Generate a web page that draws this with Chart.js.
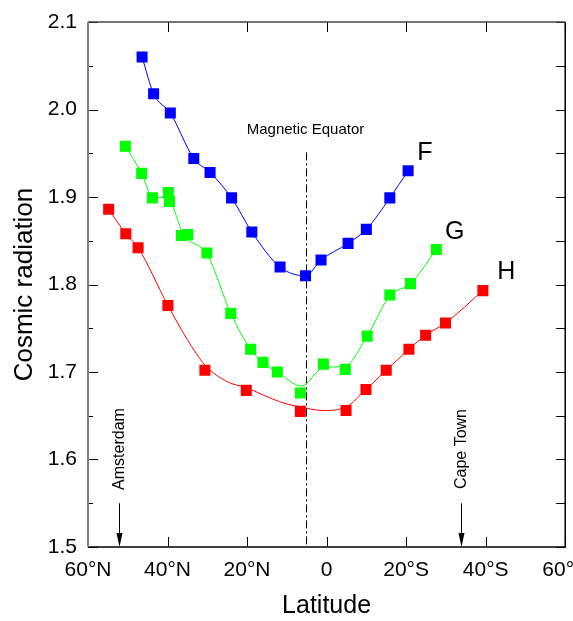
<!DOCTYPE html>
<html lang="en">
<head>
    <meta charset="UTF-8">
    <title>Cosmic radiation vs latitude</title>
    <script src="https://cdn.jsdelivr.net/npm/chart.js"></script>
    <style>
        html, body { margin: 0; padding: 0; background: #fff; }
        #wrap { width: 573px; height: 621px; }
    </style>
</head>
<body>
<div id="wrap"><canvas id="chart" width="573" height="621"></canvas></div>
<script>
// latitude in degrees: negative = north, positive = south
const xTickValues = [-60, -40, -20, 0, 20, 40, 60];
const xTickLabels = ['60°N', '40°N', '20°N', '0', '20°S', '40°S', '60°S'];
const yMajorTicks = [1.5, 1.6, 1.7, 1.8, 1.9, 2.0, 2.1];
const yMinorTicks = [1.55, 1.65, 1.75, 1.85, 1.95, 2.05];

// measured points
const fLat = [-46.4, -43.5, -39.3, -33.4, -29.3, -23.9, -18.8, -11.7, -5.3, -1.4, 5.4, 10.0, 15.9, 20.5];
const fVal = [2.060, 2.018, 1.996, 1.944, 1.928, 1.899, 1.860, 1.820, 1.810, 1.828, 1.847, 1.863, 1.899, 1.930];

const gLat = [-50.6, -46.5, -43.8, -39.8, -39.5, -36.5, -34.9, -30.1, -24.1, -19.1, -16.0, -12.4, -6.6, -0.8, 4.7, 10.2, 15.9, 21.1, 27.6];
const gVal = [1.958, 1.927, 1.899, 1.905, 1.895, 1.856, 1.857, 1.836, 1.767, 1.726, 1.711, 1.700, 1.676, 1.709, 1.703, 1.741, 1.788, 1.801, 1.840];

const hLat = [-54.8, -50.5, -47.4, -39.9, -30.6, -20.2, -6.6, 4.9, 9.9, 15.0, 20.7, 24.9, 29.9, 39.3];
const hVal = [1.886, 1.858, 1.842, 1.776, 1.702, 1.679, 1.655, 1.656, 1.680, 1.702, 1.726, 1.742, 1.756, 1.793];

// smoothed curves
const gFitLat = [-50.6, -46.5, -43.8, -40.0, -36.0, -30.1, -24.1, -19.1, -16.0, -12.4, -6.3, -0.8, 4.7, 10.2, 15.9, 21.1, 27.6];
const gFitVal = [1.958, 1.927, 1.900, 1.899, 1.857, 1.835, 1.767, 1.726, 1.711, 1.700, 1.684, 1.705, 1.707, 1.741, 1.787, 1.801, 1.840];

const hFitLat = [-54.8, -50.5, -47.4, -39.9, -35.0, -30.6, -25.0, -20.2, -11.8, -6.6, -0.8, 4.9, 9.9, 15.0, 20.7, 24.9, 29.9, 39.3];
const hFitVal = [1.886, 1.858, 1.842, 1.776, 1.737, 1.708, 1.689, 1.682, 1.666, 1.660, 1.656, 1.660, 1.680, 1.702, 1.726, 1.742, 1.756, 1.793];

// annotations
const equatorLat = -5.3;
const amsterdamLat = -52.3;
const capeTownLat = 33.8;

const FONT = '"Liberation Sans", Arial, sans-serif';
const BLUE = '#0000ff', GREEN = '#00ff00', RED = '#ff0000';

const pts = (xs, ys) => xs.map((x, i) => ({ x: x, y: ys[i] }));

function pointSet(lat, val, color) {
    return {
        data: pts(lat, val),
        showLine: false,
        pointStyle: 'rect',
        pointRadius: 7.8,
        pointBorderWidth: 0,
        backgroundColor: color,
        borderColor: color
    };
}

function curveSet(lat, val, color) {
    return {
        data: pts(lat, val),
        showLine: true,
        pointRadius: 0,
        borderWidth: 1,
        borderColor: color,
        cubicInterpolationMode: 'monotone'
    };
}

// frame, inward ticks and text annotations
const decorations = {
    id: 'decorations',
    beforeDatasetsDraw(chart) {
        const ctx = chart.ctx, xs = chart.scales.x, ys = chart.scales.y;
        const a = chart.chartArea;
        const ex = Math.round(xs.getPixelForValue(equatorLat)) + 0.5;
        ctx.save();
        ctx.strokeStyle = '#000';
        ctx.lineWidth = 1;
        ctx.setLineDash([8, 3, 2, 3]);
        ctx.beginPath();
        ctx.moveTo(ex, ys.getPixelForValue(1.951));
        ctx.lineTo(ex, a.bottom);
        ctx.stroke();
        ctx.restore();
    },
    afterDraw(chart) {
        const ctx = chart.ctx, xs = chart.scales.x, ys = chart.scales.y;
        const a = chart.chartArea;
        ctx.save();

        // ticks
        ctx.strokeStyle = '#000';
        ctx.lineWidth = 1;
        ctx.beginPath();
        xTickValues.forEach(v => {
            const x = Math.round(xs.getPixelForValue(v)) + 0.5;
            ctx.moveTo(x, a.bottom); ctx.lineTo(x, a.bottom - 10);
            ctx.moveTo(x, a.top); ctx.lineTo(x, a.top + 10);
        });
        yMajorTicks.forEach(v => {
            const y = Math.round(ys.getPixelForValue(v)) + 0.5;
            ctx.moveTo(a.left, y); ctx.lineTo(a.left + 10, y);
            ctx.moveTo(a.right, y); ctx.lineTo(a.right - 9, y);
        });
        yMinorTicks.forEach(v => {
            const y = Math.round(ys.getPixelForValue(v)) + 0.5;
            ctx.moveTo(a.left, y); ctx.lineTo(a.left + 5, y);
            ctx.moveTo(a.right, y); ctx.lineTo(a.right - 9, y);
        });
        ctx.stroke();

        // frame
        ctx.lineWidth = 1.5;
        ctx.strokeStyle = '#000';
        ctx.beginPath();
        ctx.moveTo(a.left, a.bottom); ctx.lineTo(a.right, a.bottom); ctx.lineTo(a.right, a.top);
        ctx.stroke();
        ctx.strokeStyle = '#444';
        ctx.beginPath();
        ctx.moveTo(a.left, a.top); ctx.lineTo(a.right, a.top);
        ctx.stroke();
        ctx.lineWidth = 2;
        ctx.strokeStyle = '#808080';
        ctx.beginPath();
        ctx.moveTo(a.left, a.bottom); ctx.lineTo(a.left, a.top);
        ctx.stroke();

        // text
        ctx.fillStyle = '#000';
        ctx.textAlign = 'center';
        ctx.textBaseline = 'middle';
        ctx.font = '15px ' + FONT;
        ctx.fillText('Magnetic Equator', xs.getPixelForValue(equatorLat), ys.getPixelForValue(1.977));

        ctx.font = '25px ' + FONT;
        ctx.fillText('F', xs.getPixelForValue(24.7), ys.getPixelForValue(1.950));
        ctx.fillText('G', xs.getPixelForValue(32.2), ys.getPixelForValue(1.860));
        ctx.fillText('H', xs.getPixelForValue(45.2), ys.getPixelForValue(1.814));

        // city arrows
        [[amsterdamLat, 'Amsterdam'], [capeTownLat, 'Cape Town']].forEach(([lat, name]) => {
            const x = Math.round(xs.getPixelForValue(lat)) + 0.5;
            const yTop = ys.getPixelForValue(1.55);
            ctx.lineWidth = 1;
            ctx.strokeStyle = '#000';
            ctx.beginPath();
            ctx.moveTo(x, yTop); ctx.lineTo(x, a.bottom - 8);
            ctx.stroke();
            ctx.beginPath();
            ctx.moveTo(x - 3, a.bottom - 14);
            ctx.lineTo(x + 3, a.bottom - 14);
            ctx.lineTo(x, a.bottom);
            ctx.closePath();
            ctx.fill();

            ctx.save();
            ctx.translate(x, ys.getPixelForValue(1.612));
            ctx.rotate(-Math.PI / 2);
            ctx.font = '16px ' + FONT;
            ctx.fillText(name, 0, 0);
            ctx.restore();
        });

        ctx.restore();
    }
};

new Chart(document.getElementById('chart'), {
    type: 'scatter',
    data: {
        datasets: [
            pointSet(fLat, fVal, BLUE),
            pointSet(gLat, gVal, GREEN),
            pointSet(hLat, hVal, RED),
            curveSet(fLat, fVal, BLUE),
            curveSet(gFitLat, gFitVal, GREEN),
            curveSet(hFitLat, hFitVal, RED)
        ]
    },
    options: {
        responsive: false,
        animation: false,
        events: [],
        layout: { padding: { top: 22, right: 7, left: 0, bottom: 0 } },
        plugins: {
            legend: { display: false },
            tooltip: { enabled: false }
        },
        scales: {
            x: {
                type: 'linear',
                min: -60,
                max: 60,
                grid: { display: false, drawTicks: false },
                border: { display: false },
                ticks: {
                    stepSize: 20,
                    padding: 11,
                    maxRotation: 0,
                    color: '#000',
                    font: { family: FONT, size: 21 },
                    callback: v => {
                        const i = xTickValues.indexOf(v);
                        return i < 0 ? '' : xTickLabels[i];
                    }
                },
                title: {
                    display: true,
                    text: 'Latitude',
                    color: '#000',
                    font: { family: FONT, size: 25 },
                    padding: { top: 0, bottom: 0 }
                },
                afterFit: s => { s.height = 74; s.paddingLeft = 0; s.paddingRight = 0; }
            },
            y: {
                min: 1.5,
                max: 2.1,
                grid: { display: false, drawTicks: false },
                border: { display: false },
                ticks: {
                    stepSize: 0.1,
                    padding: 11,
                    color: '#000',
                    font: { family: FONT, size: 21 },
                    callback: v => v.toFixed(1)
                },
                title: {
                    display: true,
                    text: 'Cosmic radiation',
                    color: '#000',
                    font: { family: FONT, size: 26 },
                    padding: { top: 9, bottom: 0 }
                },
                afterFit: s => { s.width = 88; s.paddingTop = 0; s.paddingBottom = 0; }
            }
        }
    },
    plugins: [decorations]
});
</script>
</body>
</html>
